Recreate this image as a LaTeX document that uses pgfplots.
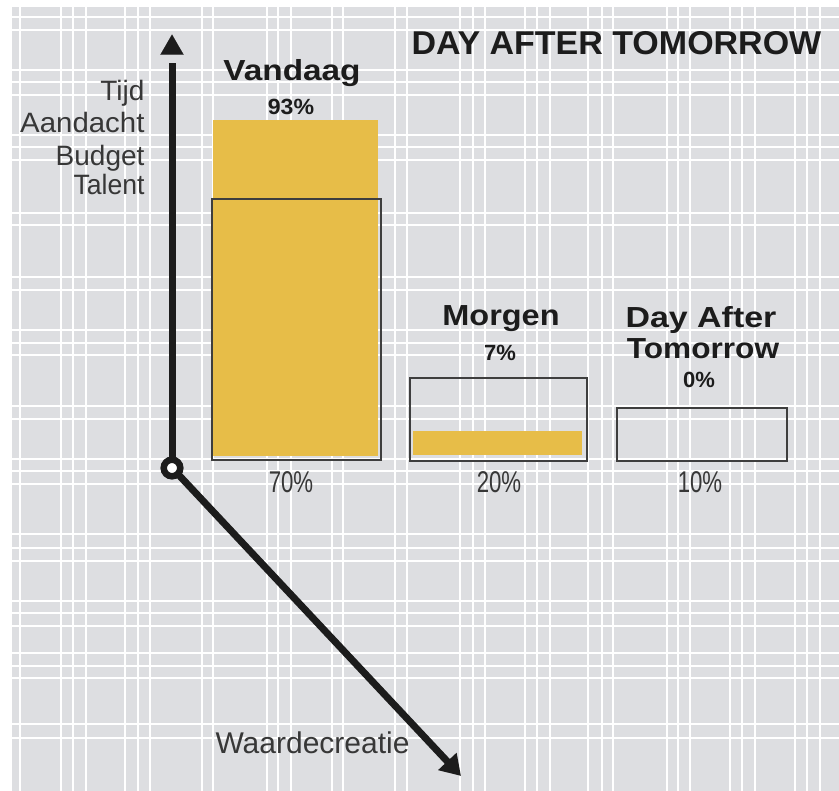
\documentclass[border=0pt]{standalone}
\usepackage{pgfplots}
\pgfplotsset{compat=1.18}
\usepackage{fontspec}
\setmainfont{Liberation Sans}
\usetikzlibrary{arrows.meta}
\definecolor{bg}{RGB}{221,222,225}
\definecolor{bar}{RGB}{231,189,72}
\definecolor{ink}{RGB}{28,28,28}
\definecolor{txt}{RGB}{55,55,55}
\newcommand{\bl}[3]{\scalebox{#3}[1]{\fontsize{#1}{#1}\selectfont\bfseries #2}}
\newcommand{\rg}[3]{\scalebox{#3}[1]{\fontsize{#1}{#1}\selectfont #2}}
\begin{document}
\begin{tikzpicture}
\useasboundingbox (-12bp,0) rectangle (827bp,791bp);
\begin{axis}[
  scale only axis, width=827bp, height=784bp,
  xmin=12, xmax=839, ymin=7, ymax=791, y dir=reverse,
  axis background/.style={fill=bg},
  axis line style={draw=none},
  xtick={20,61,73,86,125,138,150,202,213,267,278,291,332,343,395,407,460,473,485,525,537,550,588,602,613,667,678,690,730,742,755,795,807,820},
  ytick={17,30,70,82,95,135,147,160,213,225,277,290,330,343,355,406,419,459,471,484,534,548,561,601,613,626,653,666,678,724,738},
  xticklabels={}, yticklabels={},
  major tick length=0pt,
  grid=major, major grid style={white, line width=2.6bp},
  clip=false,
]
% bars: yellow fill (share of effort) and outline boxes (share of value)
\addplot[fill=bar, draw=none] coordinates {(213,456) (378,456) (378,120) (213,120)} -- cycle;
\addplot[draw=ink!85, line width=2bp, fill=none] coordinates {(212,460) (381,460) (381,199) (212,199)} -- cycle;
\addplot[fill=bar, draw=none] coordinates {(413,455) (582,455) (582,431) (413,431)} -- cycle;
\addplot[draw=ink!85, line width=2bp, fill=none] coordinates {(410,461) (587,461) (587,378) (410,378)} -- cycle;
\addplot[draw=ink!85, line width=2bp, fill=none] coordinates {(617,461) (787,461) (787,408) (617,408)} -- cycle;
% axes arrows
\addplot[ink, line width=7bp] coordinates {(172,460) (172,63)};
\addplot[only marks, mark=triangle*, mark size=13.3bp, color=ink, mark options={line width=0.2bp}] coordinates {(172,48)};
\addplot[ink, line width=7bp, -{Triangle[length=20bp,width=24bp]}] coordinates {(176,472) (461,776)};
\addplot[only marks, mark=*, mark size=8.3bp, mark options={fill=white, draw=ink, line width=6.5bp}] coordinates {(172,468)};
% texts
\node[anchor=base west, ink] at (axis cs:408,55) {\bl{33bp}{DAY AFTER TOMORROW}{1.03}};
\node[anchor=base, ink] at (axis cs:292,81) {\bl{29bp}{Vandaag}{1.15}};
\node[anchor=base, ink] at (axis cs:291,115) {\bl{22bp}{93\%}{1.05}};
\node[anchor=base, ink] at (axis cs:501,325) {\bl{29bp}{Morgen}{1.12}};
\node[anchor=base, ink] at (axis cs:500,360) {\bl{22bp}{7\%}{1.0}};
\node[anchor=base, ink] at (axis cs:701,327) {\bl{29bp}{Day After}{1.17}};
\node[anchor=base, ink] at (axis cs:703,358) {\bl{29bp}{Tomorrow}{1.09}};
\node[anchor=base, ink] at (axis cs:699,387) {\bl{22bp}{0\%}{1.0}};
\node[anchor=base, txt] at (axis cs:291,492) {\rg{30bp}{70\%}{0.74}};
\node[anchor=base, txt] at (axis cs:499,492) {\rg{30bp}{20\%}{0.74}};
\node[anchor=base, txt] at (axis cs:700,492) {\rg{30bp}{10\%}{0.74}};
\node[anchor=base east, txt] at (axis cs:148,101) {\rg{28bp}{Tijd}{1.0}};
\node[anchor=base east, txt] at (axis cs:148,133) {\rg{28bp}{Aandacht}{1.05}};
\node[anchor=base east, txt] at (axis cs:148,165) {\rg{28bp}{Budget}{1.0}};
\node[anchor=base east, txt] at (axis cs:148,195) {\rg{28bp}{Talent}{0.95}};
\node[anchor=base west, txt] at (axis cs:212,753) {\rg{30bp}{Waardecreatie}{1.0}};
\end{axis}
\end{tikzpicture}
\end{document}
